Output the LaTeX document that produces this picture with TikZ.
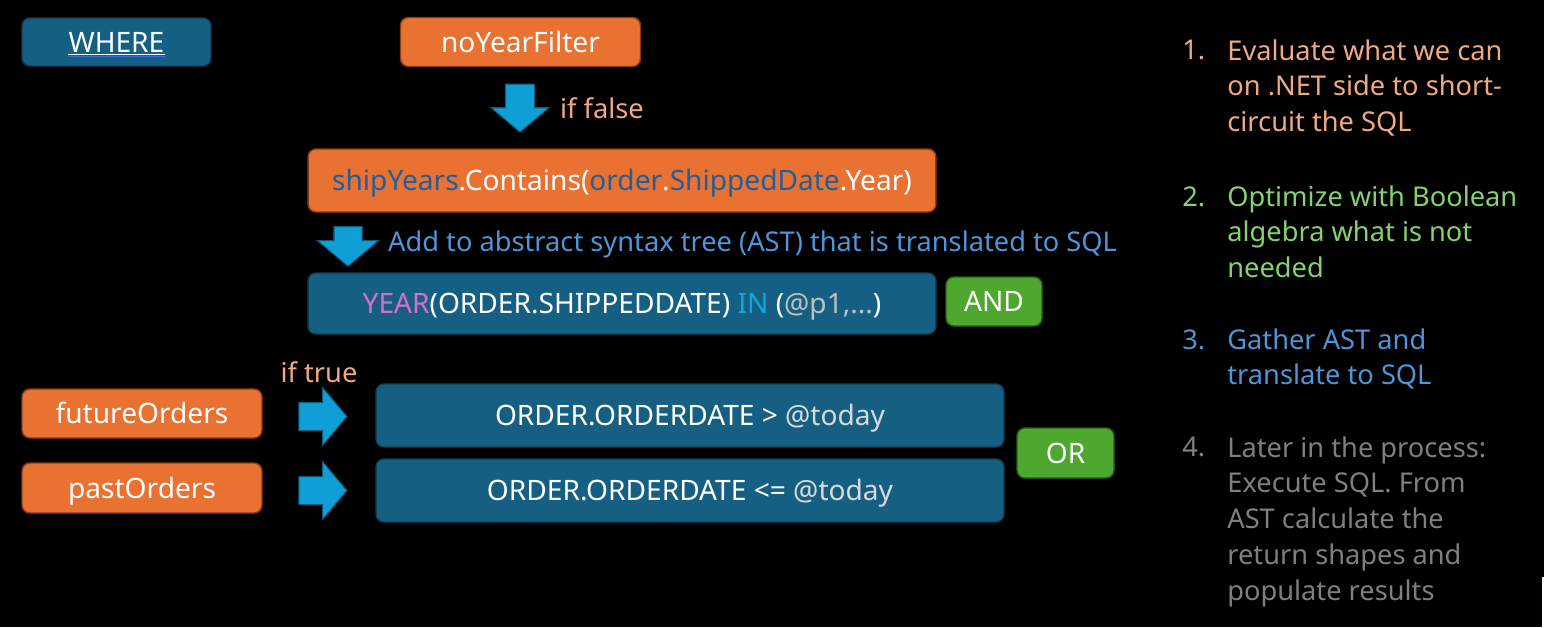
\documentclass[tikz,border=0pt]{standalone}
\usepackage{fontspec}
\setmainfont{Noto Sans}
\usetikzlibrary{positioning,shapes.arrows}
\definecolor{sqlteal}{HTML}{156082}
\definecolor{sqledge}{HTML}{0E3F56}
\definecolor{csorange}{HTML}{E97132}
\definecolor{csedge}{HTML}{8A3D14}
\definecolor{opgreen}{HTML}{4EA72E}
\definecolor{opedge}{HTML}{2B5E18}
\definecolor{flowblue}{HTML}{0F9ED5}
\definecolor{flowedge}{HTML}{0B5A7A}
\definecolor{notesalmon}{HTML}{F1A983}
\definecolor{notegreen}{HTML}{84D36E}
\definecolor{noteblue}{HTML}{4E95D9}
\definecolor{notegrey}{HTML}{7F7F7F}
\definecolor{codeblue}{HTML}{215F9A}
\definecolor{kwpink}{HTML}{D86ECC}
\definecolor{kwblue}{HTML}{0FA6E0}
\definecolor{paramgrey}{HTML}{BFBFBF}
\definecolor{todaygrey}{HTML}{D9D9D9}
\definecolor{linkblue}{HTML}{2F6FE0}
\newcommand\slidefont{\fontsize{15.5}{20.4}\selectfont}
\newcommand\boxfont{\fontsize{16}{20}\selectfont}

\begin{document}
\begin{tikzpicture}[x=0.02cm,y=-0.02cm,font=\slidefont,
  sqlbox/.style={draw=sqledge,fill=sqlteal,text=white,rounded corners=4.5pt,line width=.8pt,font=\boxfont,text height=11.4pt,text depth=0pt},
  csbox/.style={draw=csedge,fill=csorange,text=white,rounded corners=4.5pt,line width=.8pt,font=\boxfont,text height=11.4pt,text depth=0pt},
  opbox/.style={draw=opedge,fill=opgreen,text=white,rounded corners=4.5pt,line width=.8pt,font=\boxfont,text height=11.4pt,text depth=0pt},
  flowarrow/.style={single arrow,draw=flowedge,fill=flowblue,line width=.6pt,single arrow tip angle=100,minimum height=.96cm,inner sep=.28cm,single arrow head extend=.29cm}]
\fill[black] (0,0) rectangle (1544,627);
\fill[white] (1542,577) rectangle (1544,627);
% left column: the C# side and the SQL it turns into
\node[sqlbox,minimum width=3.78cm,minimum height=.96cm] (where) at (116.5,42){};
\node[text=white,inner sep=0pt,font=\boxfont] (wheretxt) at (where){WHERE};
\draw[white,line width=.6pt] ([yshift=-1.3pt]wheretxt.base west)--([yshift=-1.3pt]wheretxt.base east);
\draw[linkblue,line width=.6pt] ([yshift=-2.5pt]wheretxt.base west)--([yshift=-2.5pt]wheretxt.base east);
\node[csbox,minimum width=4.8cm,minimum height=.98cm] (noyear) at (520.5,42){noYearFilter};
\node[flowarrow,rotate=-90] (falsearrow) at (520,102){};
\node[anchor=west,text=notesalmon] (iffalse) at (554,108){if false};
\node[csbox,minimum width=12.56cm,minimum height=1.26cm] (contains) at (622,180.5){\textcolor{codeblue}{shipYears}.Contains(\textcolor{codeblue}{order}.\textcolor{codeblue}{ShippedDate}.Year)};
\node[flowarrow,rotate=-90,minimum height=.74cm,inner sep=.27cm,single arrow head extend=.33cm] (astarrow) at (348,240.5){};
\node[anchor=west,text=noteblue] (astnote) at (382,244){Add to abstract syntax tree (AST) that is translated to SQL};
\node[sqlbox,minimum width=12.56cm,minimum height=1.22cm] (year) at (622,303.5){\textcolor{kwpink}{YEAR}(ORDER.SHIPPEDDATE) \textcolor{kwblue}{IN} (\textcolor{paramgrey}{@p1,...})};
\node[opbox,minimum width=1.92cm,minimum height=.98cm] (and) at (994,301.5){AND};
\node[text=notesalmon] (iftrue) at (319,372){if true};
\node[csbox,minimum width=4.8cm,minimum height=.98cm] (future) at (142,413.5){futureOrders};
\node[csbox,minimum width=4.8cm,minimum height=1cm] (past) at (142,488){pastOrders};
\node[flowarrow,inner sep=.27cm,single arrow head extend=.3cm] (futurearrow) at (317,416.5){};
\node[flowarrow,inner sep=.27cm,single arrow head extend=.3cm] (pastarrow) at (317,490.5){};
\node[sqlbox,minimum width=12.56cm,minimum height=1.26cm] (later) at (690,415.5){ORDER.ORDERDATE > \textcolor{todaygrey}{@today}};
\node[sqlbox,minimum width=12.56cm,minimum height=1.26cm] (earlier) at (690,490.5){ORDER.ORDERDATE <= \textcolor{todaygrey}{@today}};
\node[opbox,minimum width=1.94cm,minimum height=1cm] (or) at (1065.5,453){OR};
% right column: the steps
\node[anchor=north west,inner sep=0pt,text=notesalmon] (n1) at (1182,40){1.};
\node[anchor=north west,inner sep=0pt,align=left,text=notesalmon] (s1) at (1227,39){Evaluate what we can\\on .NET side to short-\\circuit the SQL};
\node[anchor=north west,inner sep=0pt,text=notegreen] (n2) at (1182,186){2.};
\node[anchor=north west,inner sep=0pt,align=left,text=notegreen] (s2) at (1227,185){Optimize with Boolean\\algebra what is not\\needed};
\node[anchor=north west,inner sep=0pt,text=noteblue] (n3) at (1182,329){3.};
\node[anchor=north west,inner sep=0pt,align=left,text=noteblue] (s3) at (1227,328){Gather AST and\\translate to SQL};
\node[anchor=north west,inner sep=0pt,text=notegrey] (n4) at (1182,437){4.};
\node[anchor=north west,inner sep=0pt,align=left,text=notegrey] (s4) at (1227,436){Later in the process:\\Execute SQL. From\\AST calculate the\\return shapes and\\populate results};
\end{tikzpicture}
\end{document}
